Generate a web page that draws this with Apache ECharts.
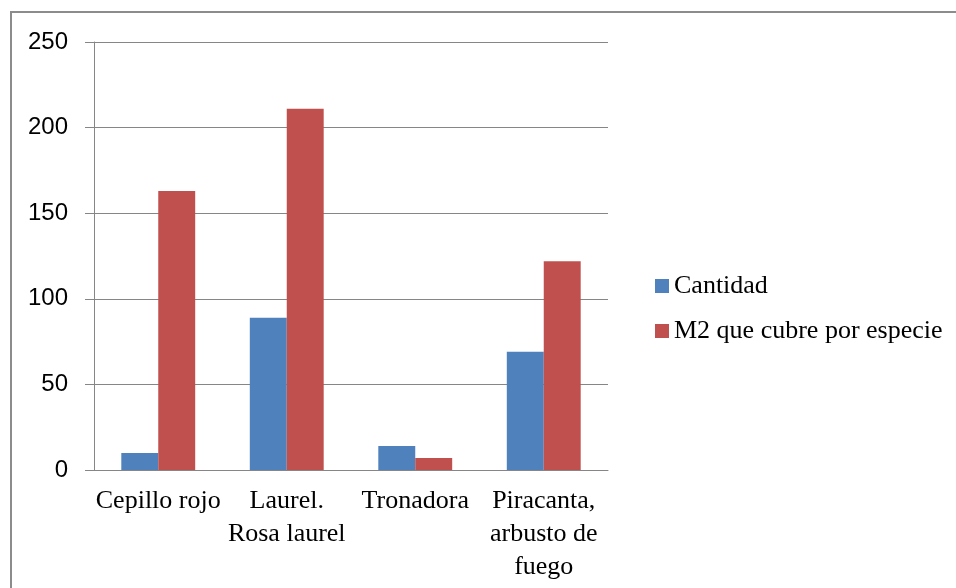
<!DOCTYPE html>
<html>
<head>
<meta charset="utf-8">
<script src="https://cdn.jsdelivr.net/npm/echarts@6/dist/echarts.min.js"></script>
<style>
  html, body { margin: 0; padding: 0; background: #fff; }
  #chart { width: 956px; height: 588px; }
</style>
</head>
<body>
<div id="chart"></div>
<script>
// datos
const categories = ["Cepillo rojo", "Laurel.\nRosa laurel", "Tronadora", "Piracanta,\narbusto de\nfuego"];
const cantidad = [10, 89, 14, 69];
const m2Especie = [163, 211, 7, 122];
const seriesNames = ["Cantidad", "M2 que cubre por especie"];
const yTicks = { min: 0, max: 250, step: 50 };

const gray = "#868686";
const chart = echarts.init(document.getElementById("chart"));

chart.setOption({
  animation: false,
  graphic: [
    {
      type: "rect",
      shape: { x: 11, y: 12, width: 1000, height: 1000 },
      style: { fill: "none", stroke: "#8c8c8c", lineWidth: 2 },
      silent: true,
    },
  ],
  grid: {
    left: 94,
    right: 348,
    top: 42,
    bottom: 118,
  },
  legend: {
    orient: "vertical",
    left: 650,
    top: 268,
    itemWidth: 14,
    itemHeight: 14,
    itemGap: 19,
    icon: "rect",
    textStyle: {
      fontFamily: "Liberation Serif",
      fontSize: 26,
      color: "#000",
    },
    data: seriesNames,
  },
  xAxis: {
    type: "category",
    data: categories,
    axisLine: { lineStyle: { color: gray, width: 1 } },
    axisTick: { length: 7, lineStyle: { color: gray } },
    axisLabel: {
      interval: 0,
      margin: 15,
      fontFamily: "Liberation Serif",
      fontSize: 26,
      lineHeight: 33,
      color: "#000",
    },
  },
  yAxis: {
    type: "value",
    min: yTicks.min,
    max: yTicks.max,
    interval: yTicks.step,
    axisLine: { show: true, lineStyle: { color: gray, width: 1 } },
    axisTick: { show: true, length: 9, lineStyle: { color: gray } },
    splitLine: { lineStyle: { color: gray, width: 1 } },
    axisLabel: {
      margin: 26,
      fontFamily: "Liberation Sans",
      fontSize: 24,
      color: "#000",
    },
  },
  series: [
    {
      name: seriesNames[0],
      type: "bar",
      data: cantidad,
      barGap: "0%",
      barCategoryGap: "42.5%",
      itemStyle: { color: "#4F81BD" },
    },
    {
      name: seriesNames[1],
      type: "bar",
      data: m2Especie,
      barGap: "0%",
      barCategoryGap: "42.5%",
      itemStyle: { color: "#C0504D" },
    },
  ],
});
</script>
</body>
</html>
